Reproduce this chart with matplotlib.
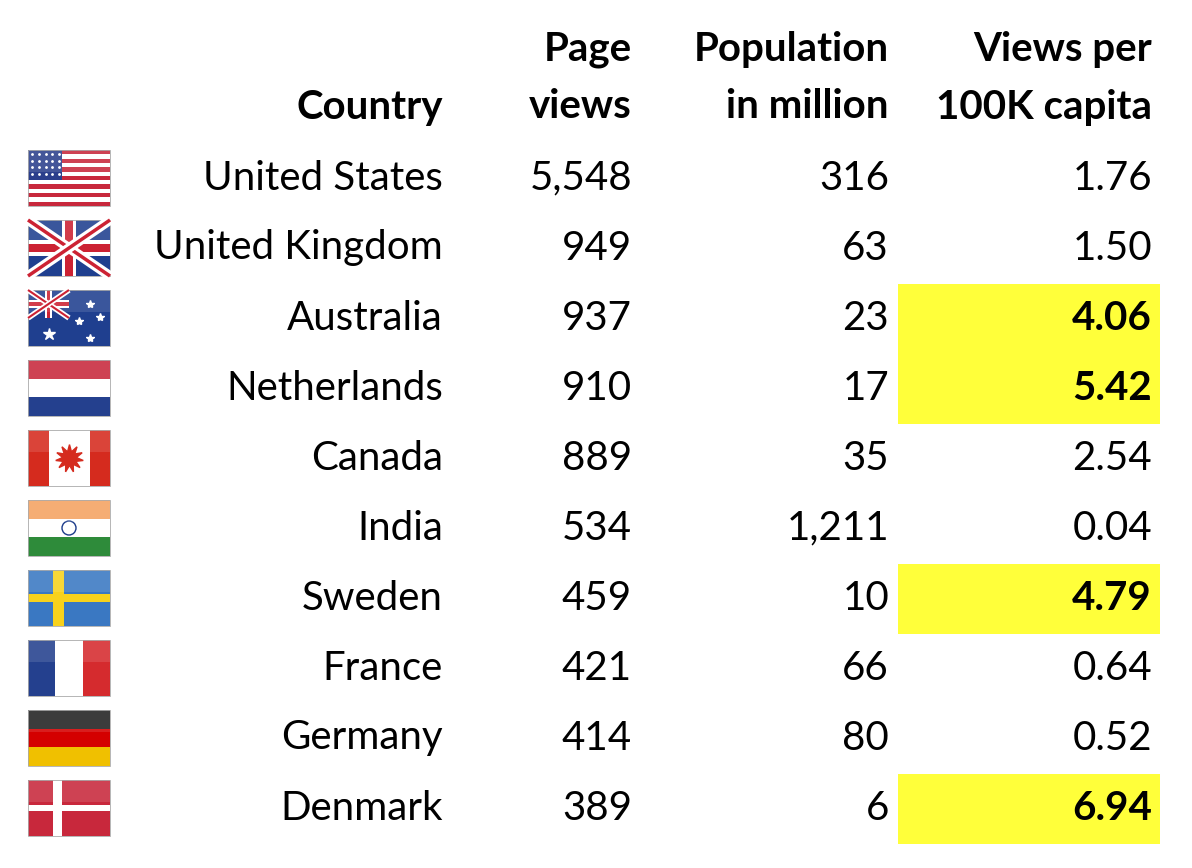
import matplotlib
matplotlib.use("Agg")
import matplotlib.pyplot as plt
from matplotlib.patches import Rectangle, Circle

countries = ["United States", "United Kingdom", "Australia", "Netherlands", "Canada",
             "India", "Sweden", "France", "Germany", "Denmark"]
page_views = ["5,548", "949", "937", "910", "889", "534", "459", "421", "414", "389"]
population = ["316", "63", "23", "17", "35", "1,211", "10", "66", "80", "6"]
views_per = ["1.76", "1.50", "4.06", "5.42", "2.54", "0.04", "4.79", "0.64", "0.52", "6.94"]
highlight = [False, False, True, True, False, False, True, False, False, True]
flag_codes = ["us", "gb", "au", "nl", "ca", "in", "se", "fr", "de", "dk"]

plt.rcParams['font.family'] = ['Lato', 'DejaVu Sans']
fig = plt.figure(figsize=(11.92, 8.68), dpi=100)
ax = fig.add_axes([0, 0, 1, 1])
ax.set_xlim(0, 1192)
ax.set_ylim(868, 0)
ax.axis('off')

FS = 29


def rect(x, y, w, h, c):
    ax.add_patch(Rectangle((x, y), w, h, color=c, lw=0))


def union_jack(x, y, w, h, lw1=7, lw2=2.5):
    rect(x, y, w, h, '#1f3f8f')
    for xs, ys in [([x, x + w], [y, y + h]), ([x, x + w], [y + h, y])]:
        ax.plot(xs, ys, color='white', lw=lw1, solid_capstyle='butt')
        ax.plot(xs, ys, color='#cc2233', lw=lw2, solid_capstyle='butt')
    rect(x + w * 0.42, y, w * 0.16, h, 'white')
    rect(x, y + h * 0.36, w, h * 0.28, 'white')
    rect(x + w * 0.455, y, w * 0.09, h, '#cc2233')
    rect(x, y + h * 0.42, w, h * 0.16, '#cc2233')


def draw_flag(code, x, y, w, h):
    if code == "us":
        for i in range(13):
            rect(x, y + i * h / 13, w, h / 13, '#c8283c' if i % 2 == 0 else 'white')
        rect(x, y, w * 0.42, h * 7 / 13, '#2b3f8c')
        for r in range(4):
            for c in range(5):
                ax.plot(x + 4 + c * 6.8, y + 4 + r * 6.5, '.', color='white', ms=2)
    elif code == "gb":
        union_jack(x, y, w, h)
    elif code == "au":
        rect(x, y, w, h, '#1f3f8f')
        union_jack(x, y, w / 2, h / 2, 4, 1.5)
        for sx, sy, s in [(0.25, 0.78, 9), (0.75, 0.25, 6), (0.62, 0.55, 6), (0.88, 0.48, 6), (0.75, 0.85, 6)]:
            ax.plot(x + sx * w, y + sy * h, '*', color='white', ms=s)
    elif code == "nl":
        for i, c in enumerate(['#c8283c', 'white', '#24408e']):
            rect(x, y + i * h / 3, w, h / 3, c)
    elif code == "ca":
        rect(x, y, w, h, 'white')
        rect(x, y, w / 4, h, '#d52b1e')
        rect(x + 3 * w / 4, y, w / 4, h, '#d52b1e')
        ax.plot(x + w / 2, y + h / 2, marker=(11, 1, 0), color='#d52b1e', ms=20)
    elif code == "in":
        for i, c in enumerate(['#f4a261', 'white', '#2e8b3a']):
            rect(x, y + i * h / 3, w, h / 3, c)
        ax.add_patch(Circle((x + w / 2, y + h / 2), h / 8, fill=False, ec='#1a3a8a', lw=1))
    elif code == "se":
        rect(x, y, w, h, '#3a78c2')
        rect(x + w * 0.3, y, w * 0.14, h, '#f8d21c')
        rect(x, y + h * 0.42, w, h * 0.16, '#f8d21c')
    elif code == "fr":
        for i, c in enumerate(['#24408e', 'white', '#d52b2e']):
            rect(x + i * w / 3, y, w / 3, h, c)
    elif code == "de":
        for i, c in enumerate(['#222222', '#d40000', '#f0c000']):
            rect(x, y + i * h / 3, w, h / 3, c)
    elif code == "dk":
        rect(x, y, w, h, '#c8283c')
        rect(x + w * 0.3, y, w * 0.12, h, 'white')
        rect(x, y + h * 0.44, w, h * 0.12, 'white')
    rect(x, y, w, h * 0.4, (1, 1, 1, 0.12))
    ax.add_patch(Rectangle((x, y), w, h, fill=False, ec='#aaaaaa', lw=0.6))


hdr = dict(fontsize=FS, fontweight='bold', ha='right', va='center')
ax.text(443, 107, "Country", **hdr)
ax.text(632, 50, "Page", **hdr)
ax.text(632, 107, "views", **hdr)
ax.text(889, 50, "Population", **hdr)
ax.text(889, 107, "in million", **hdr)
ax.text(1152, 50, "Views per", **hdr)
ax.text(1152, 107, "100K capita", **hdr)

for i in range(len(countries)):
    yc = 178 + 70 * i
    if highlight[i]:
        rect(898, yc - 34, 262, 70, '#ffff3a')
    draw_flag(flag_codes[i], 28, yc - 28, 82, 56)
    ax.text(443, yc, countries[i], fontsize=FS, ha='right', va='center')
    ax.text(632, yc, page_views[i], fontsize=FS, ha='right', va='center')
    ax.text(889, yc, population[i], fontsize=FS, ha='right', va='center')
    ax.text(1152, yc, views_per[i], fontsize=FS, ha='right', va='center',
            fontweight='bold' if highlight[i] else 'normal')

fig.savefig("out.png", dpi=100)
